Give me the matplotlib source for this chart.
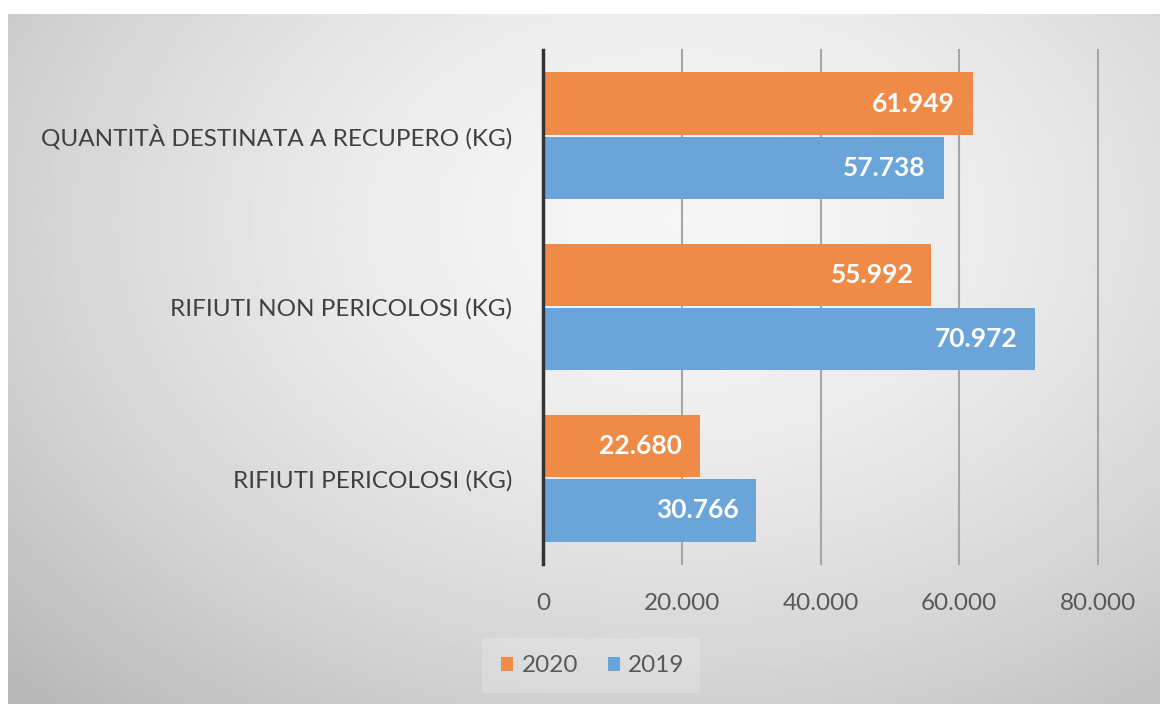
import matplotlib.pyplot as plt
import numpy as np
from matplotlib.patches import Rectangle

plt.rcParams['font.family'] = ['Lato', 'DejaVu Sans']

categories = ['RIFIUTI PERICOLOSI (KG)', 'RIFIUTI NON PERICOLOSI (KG)',
              'QUANTITÀ DESTINATA A RECUPERO (KG)']
val_2020 = [22680, 55992, 61949]
val_2019 = [30766, 70972, 57738]
xticks = [0, 20000, 40000, 60000, 80000]


def it_fmt(v):
  return f"{int(v):,}".replace(',', '.')


W, H = 1160, 704
fig = plt.figure(figsize=(W / 100, H / 100), dpi=100)
fig.patch.set_facecolor('white')

# gradient background
bg = fig.add_axes([8 / W, 0, 1 - 8 / W, 1 - 14 / H])
gx, gy = np.meshgrid(np.linspace(0, 1, 400), np.linspace(0, 1, 300))
r = np.sqrt(((gx - 0.58) / 0.75) ** 2 + ((gy - 0.3) / 0.9) ** 2)
shade = np.clip(0.965 - 0.22 * r ** 1.6, 0.72, 0.97)
bg.imshow(shade, cmap='gray', vmin=0, vmax=1, aspect='auto',
          extent=[0, 1, 1, 0], interpolation='bilinear')
bg.set_axis_off()

ax = fig.add_axes([543 / W, 1 - 564 / H, (1098 - 543) / W, (564 - 50) / H])
ax.patch.set_alpha(0)

y = np.arange(len(categories))
h = 0.365
ax.barh(y + h / 2 + 0.005, val_2020, height=h, color='#ef8a47', label='2020', zorder=3)
ax.barh(y - h / 2 - 0.005, val_2019, height=h, color='#6aa4d9', label='2019', zorder=3)

for yy, v in zip(y + h / 2 + 0.005, val_2020):
  ax.text(v - 2600, yy, it_fmt(v), ha='right', va='center', color='white',
          fontsize=19, fontweight='bold', zorder=4)
for yy, v in zip(y - h / 2 - 0.005, val_2019):
  ax.text(v - 2600, yy, it_fmt(v), ha='right', va='center', color='white',
          fontsize=19, fontweight='bold', zorder=4)

ax.set_xlim(0, 80000)
ax.set_ylim(-0.5, 2.5)
ax.set_xticks(xticks)
ax.set_xticklabels([it_fmt(t) for t in xticks], fontsize=17.5, color='#595959')
ax.set_yticks(y)
ax.set_yticklabels(categories, fontsize=17.5, color='#404040')
ax.tick_params(axis='both', length=0)
ax.tick_params(axis='x', pad=21)
ax.tick_params(axis='y', pad=22)

for t in xticks[1:]:
  ax.plot([t, t], [-0.5, 2.5], color='#a6a6a6', lw=1.5, zorder=1, clip_on=False)
ax.plot([0, 0], [-0.5, 2.5], color='#333333', lw=2.5, zorder=5, clip_on=False)
for s in ax.spines.values():
  s.set_visible(False)

# legend
fig.patches.append(Rectangle((482 / W, 1 - 693 / H), 218 / W, 55 / H,
                             transform=fig.transFigure, facecolor='white',
                             alpha=0.2, edgecolor='none', zorder=1))
handles, labels = ax.get_legend_handles_labels()
leg = fig.legend(handles, labels, loc='center', bbox_to_anchor=(593 / W, 1 - 666 / H),
                 ncol=2, frameon=False, fontsize=17.5, handlelength=0.5,
                 handleheight=0.5, handletextpad=0.35, columnspacing=1.2)
leg.set_zorder(5)
for t in leg.get_texts():
  t.set_color('#595959')

fig.savefig('out.png', dpi=100)
